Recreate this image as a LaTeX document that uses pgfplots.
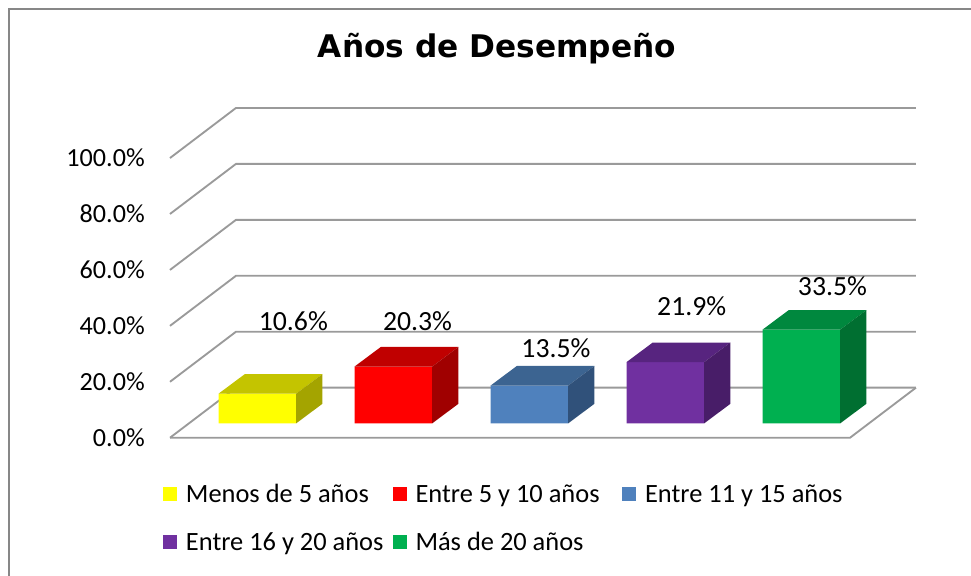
\documentclass[border=0pt]{standalone}
\usepackage{pgfplots}
\pgfplotsset{compat=1.18}
\usepackage{pgfplotstable}
\usepackage{fontspec}
\setmainfont{Carlito}
\newfontfamily\titlefont{DejaVu Sans}

\definecolor{yF}{HTML}{FFFF00}\definecolor{yT}{HTML}{C4C400}\definecolor{yS}{HTML}{A4A400}
\definecolor{rF}{HTML}{FF0000}\definecolor{rT}{HTML}{C00000}\definecolor{rS}{HTML}{A00000}
\definecolor{bF}{HTML}{4F81BD}\definecolor{bT}{HTML}{3C6491}\definecolor{bS}{HTML}{30517A}
\definecolor{pF}{HTML}{7030A0}\definecolor{pT}{HTML}{57247F}\definecolor{pS}{HTML}{481D68}
\definecolor{gF}{HTML}{00B050}\definecolor{gT}{HTML}{00883E}\definecolor{gS}{HTML}{006F31}
\definecolor{gridc}{HTML}{9A9A9A}
\definecolor{framec}{HTML}{878787}

% idx: category, val: percent, lx/ly: label position
\pgfplotstableread{
idx val lx ly
0 10.6 0.907 38.26
1 20.3 1.820 38.26
2 13.5 2.838 28.74
3 21.9 3.836 43.87
4 33.5 4.871 51.02
}\bardata

\newcommand{\bdx}{0.193}
\newcommand{\bdy}{7.0}
\newcommand{\bw}{0.571}
\newcommand{\zb}{5.15}
\newcommand\threedbar[4]{%
  \pgfplotstablegetelem{#1}{val}\of\bardata
  \pgfmathsetmacro\bv{\pgfplotsretval}%
  \pgfmathsetmacro\xL{#1+0.357}%
  \pgfmathsetmacro\xR{\xL+\bw}%
  \pgfmathsetmacro\xLb{\xL+\bdx}%
  \pgfmathsetmacro\xRb{\xR+\bdx}%
  \pgfmathsetmacro\yB{\zb}%
  \pgfmathsetmacro\yT{\zb+\bv}%
  \pgfmathsetmacro\yBb{\zb+\bdy}%
  \pgfmathsetmacro\yTb{\zb+\bdy+\bv}%
  \addplot[forget plot, draw=none, fill=#2] coordinates {(\xL,\yB) (\xR,\yB) (\xR,\yT) (\xL,\yT) (\xL,\yB)};
  \addplot[forget plot, draw=none, fill=#3] coordinates {(\xL,\yT) (\xR,\yT) (\xRb,\yTb) (\xLb,\yTb) (\xL,\yT)};
  \addplot[forget plot, draw=none, fill=#4] coordinates {(\xR,\yB) (\xRb,\yBb) (\xRb,\yTb) (\xR,\yT) (\xR,\yB)};
}

\begin{document}
\begin{tikzpicture}
\path[use as bounding box] (0,0) rectangle (728.25pt,-431.25pt);
\draw[line width=1.5pt, framec] (6.75pt,-440pt) -- (6.75pt,-6.75pt) -- (740pt,-6.75pt);
\node[anchor=base, font=\titlefont\bfseries\fontsize{23.4}{26}\selectfont] at (372.75pt,-42.75pt) {Años de Desempeño};

\begin{axis}[
  x=102pt, y=2.0978pt,
  anchor=south west, at={(127.5pt,-328.3pt)},
  xmin=0, xmax=5.6, ymin=0, ymax=120,
  clip=false,
  axis line style={draw=none},
  xtick=\empty,
  ytick={0,20,40,60,80,100},
  ytick pos=left,
  major tick length=0pt,
  /pgf/number format/assume math mode=true,
  yticklabel={\pgfmathprintnumber[fixed,fixed zerofill,precision=1]{\tick}\%},
  yticklabel style={font=\fontsize{19.6}{22}\selectfont, inner sep=0pt, xshift=-18.75pt, anchor=east},
  legend columns=3,
  legend image code/.code={\path[#1, draw=none] (0pt,-3.6pt) rectangle (10.5pt,6.9pt);},
  legend style={at={(axis cs:-0.0515,-16.42)}, anchor=north west, draw=none, fill=none,
    inner sep=0pt, outer sep=0pt, row sep=17.5pt,
    font=\fontsize{19.8}{22}\selectfont,
    nodes={inner sep=0pt, text height=14pt, text depth=4.5pt},
    cells={anchor=west},
    /tikz/every odd column/.append style={column sep=6.75pt}},
]
% back wall, floor and side-wall grid
\addplot[forget plot, gridc, line width=1.4pt] coordinates {(0,0) (5,0) (5.485,17.9)};
\addplot[forget plot, gridc, line width=1.4pt] coordinates {(0,0) (0.485,17.9) (5.485,17.9)};
\addplot[forget plot, gridc, line width=1.4pt] coordinates {(0,20) (0.485,37.9) (5.485,37.9)};
\addplot[forget plot, gridc, line width=1.4pt] coordinates {(0,40) (0.485,57.9) (5.485,57.9)};
\addplot[forget plot, gridc, line width=1.4pt] coordinates {(0,60) (0.485,77.9) (5.485,77.9)};
\addplot[forget plot, gridc, line width=1.4pt] coordinates {(0,80) (0.485,97.9) (5.485,97.9)};
\addplot[forget plot, gridc, line width=1.4pt] coordinates {(0,100) (0.485,117.9) (5.485,117.9)};

\threedbar{0}{yF}{yT}{yS}
\threedbar{1}{rF}{rT}{rS}
\threedbar{2}{bF}{bT}{bS}
\threedbar{3}{pF}{pT}{pS}
\threedbar{4}{gF}{gT}{gS}

\addplot[forget plot, draw=none, mark=none, point meta=explicit,
  nodes near coords={\pgfmathprintnumber[fixed,fixed zerofill,precision=1]{\pgfplotspointmeta}\%},
  nodes near coords style={anchor=base, inner sep=0pt, font=\fontsize{20.8}{23}\selectfont, text=black}]
  table[x=lx, y=ly, meta=val]{\bardata};

\addlegendimage{fill=yF}\addlegendentry{\makebox[154.9pt][l]{Menos de 5 años}}
\addlegendimage{fill=rF}\addlegendentry{\makebox[154.9pt][l]{Entre 5 y 10 años}}
\addlegendimage{fill=bF}\addlegendentry{\makebox[154.9pt][l]{Entre 11 y 15 años}}
\addlegendimage{fill=pF}\addlegendentry{\makebox[154.9pt][l]{Entre 16 y 20 años}}
\addlegendimage{fill=gF}\addlegendentry{\makebox[154.9pt][l]{Más de 20 años}}
\end{axis}
\end{tikzpicture}
\end{document}
